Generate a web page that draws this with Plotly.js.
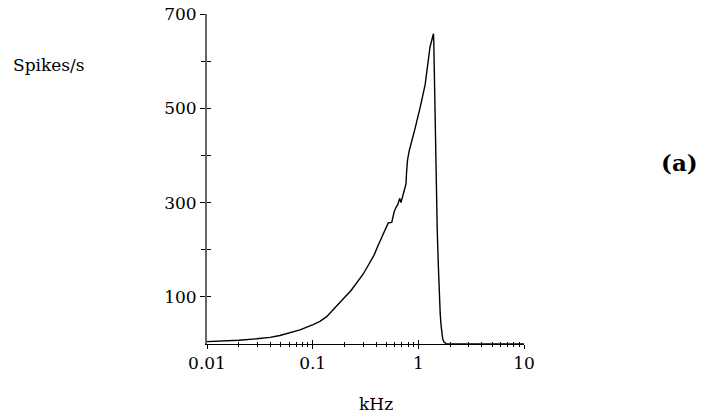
<!DOCTYPE html>
<html>
<head>
<meta charset="utf-8">
<script src="https://cdn.plot.ly/plotly-3.0.1.min.js"></script>
<style>html,body{margin:0;padding:0;background:#fff;}#chart{width:707px;height:417px;}</style>
</head>
<body>
<div id="chart"></div>
<script>
// Frequency (kHz) and firing rate (spikes/s)
var freq = [0.01, 0.015, 0.02, 0.0296, 0.0394, 0.049, 0.061, 0.0759, 0.101, 0.117, 0.1357, 0.16, 0.195, 0.23, 0.261, 0.3, 0.336, 0.38, 0.418, 0.46, 0.50, 0.519, 0.56, 0.59, 0.615, 0.64, 0.667, 0.685, 0.73, 0.765, 0.774, 0.79, 0.82, 0.866, 0.933, 1.046, 1.16, 1.29, 1.34, 1.37, 1.39, 1.40, 1.42, 1.44, 1.48, 1.51, 1.55, 1.58, 1.61, 1.64, 1.67, 1.70, 1.75, 1.80, 1.86, 2.0, 3.0, 5.0, 10.0];
var rate = [5, 6.5, 8, 11, 14, 18, 24, 30, 41, 48, 58, 76, 96, 113, 130, 148, 167, 188, 210, 232, 250, 257, 258, 280, 290, 296, 309, 300, 323, 340, 365, 390, 410, 433, 458, 504, 550, 630, 648, 656, 658, 640, 560, 454, 330, 241, 160, 100, 65, 40, 22, 11, 4, 1.5, 0, 0, 0, 0, 0];

var xTickVals = [0.01, 0.1, 1, 10];
var xTickText = ["0.01", "0.1", "1", "10"];
var xMinorVals = [0.02,0.03,0.04,0.05,0.06,0.07,0.08,0.09,0.2,0.3,0.4,0.5,0.6,0.7,0.8,0.9,2,3,4,5,6,7,8,9];
var yTickVals = [100, 300, 500, 700];
var yMinorVals = [200, 400, 600];

var font = {family: "DejaVu Serif", size: 17, color: "black"};

var traces = [
  {x: freq, y: rate, type: "scatter", mode: "lines", line: {color: "black", width: 1.4}, hoverinfo: "skip", showlegend: false},
  {x: freq, y: rate, type: "scatter", mode: "lines", xaxis: "x2", yaxis: "y2", line: {color: "rgba(0,0,0,0)", width: 0}, hoverinfo: "skip", showlegend: false}
];

var layout = {
  width: 707, height: 417,
  margin: {l: 207, r: 183, t: 14, b: 73},
  paper_bgcolor: "white", plot_bgcolor: "white",
  showlegend: false,
  xaxis: {
    type: "log", range: [-2, 1], tickmode: "array", tickvals: xTickVals, ticktext: xTickText,
    ticks: "outside", ticklen: 4, tickwidth: 1, tickcolor: "black",
    showline: true, linecolor: "black", linewidth: 1, showgrid: false, zeroline: false,
    tickfont: font, anchor: "y",
    minor: {tickmode: "array", tickvals: xMinorVals, ticks: "outside", ticklen: 2, tickcolor: "black", showgrid: false}
  },
  xaxis2: {
    type: "log", range: [-2, 1], overlaying: "x", anchor: "y", side: "bottom",
    tickmode: "array", tickvals: xTickVals, ticks: "inside", ticklen: 4, tickwidth: 1, tickcolor: "black",
    showticklabels: false, showline: false, showgrid: false, zeroline: false,
    minor: {tickmode: "array", tickvals: xMinorVals, ticks: "inside", ticklen: 2, tickcolor: "black", showgrid: false}
  },
  yaxis: {
    range: [0, 700], tickmode: "array", tickvals: yTickVals,
    ticks: "outside", ticklen: 5, tickwidth: 1, tickcolor: "black",
    showline: true, linecolor: "#666", linewidth: 2, showgrid: false, zeroline: false,
    tickfont: font, anchor: "x",
    minor: {tickmode: "array", tickvals: yMinorVals, ticks: "outside", ticklen: 4, tickcolor: "black", showgrid: false}
  },
  yaxis2: {
    range: [0, 700], overlaying: "y", anchor: "x", side: "left",
    tickmode: "array", tickvals: yTickVals, ticks: "inside", ticklen: 4, tickwidth: 1, tickcolor: "black",
    showticklabels: false, showline: false, showgrid: false, zeroline: false,
    minor: {tickmode: "array", tickvals: yMinorVals, ticks: "inside", ticklen: 4, tickcolor: "black", showgrid: false}
  },
  annotations: [
    {text: "Spikes/s", xref: "paper", yref: "paper", x: -0.618, y: 0.845, xanchor: "left", yanchor: "middle", showarrow: false, font: font},
    {text: "kHz", xref: "paper", yref: "paper", x: 0.533, y: -0.181, xanchor: "center", yanchor: "middle", showarrow: false, font: font},
    {text: "<b>(a)</b>", xref: "paper", yref: "paper", x: 1.492, y: 0.551, xanchor: "center", yanchor: "middle", showarrow: false, font: {family: "DejaVu Serif", size: 23, color: "black"}}
  ]
};

Plotly.newPlot("chart", traces, layout, {displayModeBar: false, staticPlot: true});
</script>
</body>
</html>
